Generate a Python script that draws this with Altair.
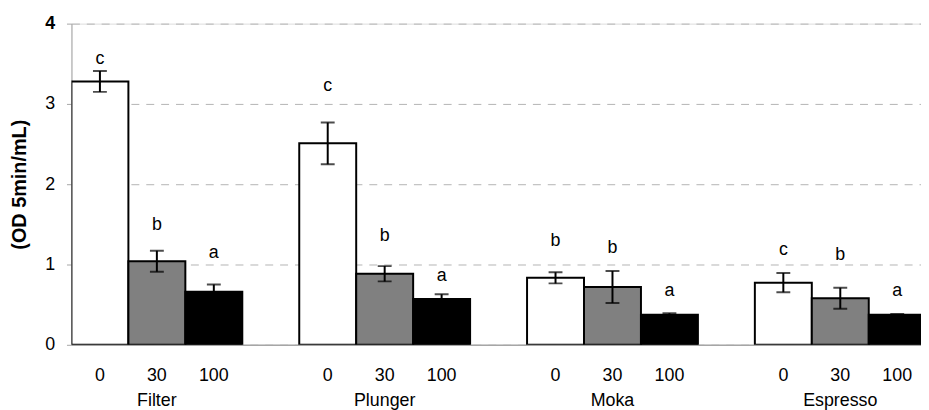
import altair as alt
import pandas as pd

groups = ["Filter", "Plunger", "Moka", "Espresso"]
doses = ["0", "30", "100"]
means = [[3.28, 1.04, 0.66], [2.51, 0.885, 0.57], [0.835, 0.72, 0.374], [0.774, 0.58, 0.374]]
errs = [[0.13, 0.13, 0.09], [0.26, 0.095, 0.06], [0.07, 0.2, 0.02], [0.12, 0.13, 0.01]]
letters = [["c", "b", "a"], ["c", "b", "a"], ["b", "b", "a"], ["c", "b", "a"]]
letter_y = [[3.56, 1.49, 1.14], [3.22, 1.36, 0.86], [1.29, 1.21, 0.67], [1.185, 1.12, 0.67]]
fills = ["#ffffff", "#808080", "#000000"]
y_ticks = [0, 1, 2, 3, 4]

rows = []
slot_domain = []
for gi, g in enumerate(groups):
    for di, d in enumerate(doses):
        key = f"{g}|{d}"
        slot_domain.append(key)
        m = means[gi][di]
        e = errs[gi][di]
        rows.append(dict(slot=key, group=g, dose=d, mean=m, lo=m - e, hi=m + e,
                         letter=letters[gi][di], ly=letter_y[gi][di]))
    slot_domain.append(f"{g}|")
df = pd.DataFrame(rows)

FONT = "Liberation Sans"
mid = doses[1]
label_expr = (
    "split(datum.value,'|')[1] == '" + mid + "' ? "
    "[split(datum.value,'|')[1], split(datum.value,'|')[0]] : split(datum.value,'|')[1]"
)

xscale = alt.Scale(domain=slot_domain, range=[0, 919.2], paddingInner=0, paddingOuter=0)
xaxis = alt.Axis(title=None, labelAngle=0, ticks=False, tickSize=0, labelPadding=22,
                 labelFontSize=18, labelLineHeight=25, labelExpr=label_expr,
                 domainColor="#a6a6a6", domainWidth=1.5, labelColor="black",
                 labelFont=FONT, grid=False, labelOverlap=False, labelBound=False,
                 labelFlush=False)
yaxis = alt.Axis(values=y_ticks, format="d", title="(OD 5min/mL)", titleFontSize=20,
                 titleFontWeight="bold", titleFont=FONT, titleColor="black",
                 labelFontSize=18, labelFont=FONT, labelColor="black", labelPadding=12,
                 tickSize=5, tickColor="#a6a6a6", domainColor="#a6a6a6",
                 gridColor="#b3b3b3", gridDash=[8, 7], titlePadding=15,
                 labelFontWeight={"condition": {"test": "datum.value == 4", "value": "bold"},
                                  "value": "normal"})
yscale = alt.Scale(domain=[0, 4], nice=False)

base = alt.Chart(df)
x_enc = alt.X("slot:N", scale=xscale, axis=xaxis, sort=slot_domain)

bars = base.mark_bar(stroke="black", strokeWidth=2, clip=True).encode(
    x=x_enc,
    y=alt.Y("mean:Q", scale=yscale, axis=yaxis),
    fill=alt.Fill("dose:N", scale=alt.Scale(domain=doses, range=fills), legend=None),
)
rule = base.mark_rule(color="black", strokeWidth=2, clip=True).encode(
    x=x_enc, y=alt.Y("lo:Q", scale=yscale), y2="hi:Q")
cap_lo = base.mark_tick(color="black", thickness=2, size=14, orient="horizontal", clip=True).encode(
    x=x_enc, y=alt.Y("lo:Q", scale=yscale))
cap_hi = base.mark_tick(color="black", thickness=2, size=14, orient="horizontal", clip=True).encode(
    x=x_enc, y=alt.Y("hi:Q", scale=yscale))
txt = base.mark_text(fontSize=18, font=FONT, color="black", baseline="middle", clip=True).encode(
    x=x_enc, y=alt.Y("ly:Q", scale=yscale), text="letter:N")

chart = alt.layer(bars, rule, cap_lo, cap_hi, txt).properties(
    width=857, height=324,
    padding={"left": 64, "top": 14, "right": 0, "bottom": 64},
    autosize=alt.AutoSizeParams(type="none"),
).configure_view(stroke=None).configure(font=FONT)

chart.save("out.html", embed_options={"renderer": "svg", "actions": False})
